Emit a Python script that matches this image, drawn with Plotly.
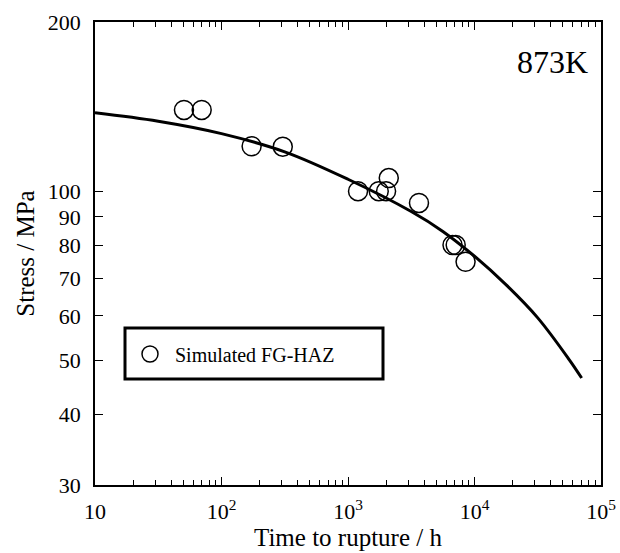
import numpy as np
import plotly.graph_objects as go

# Measured data: time to rupture (h) and stress (MPa)
rupture_time_h = [50.5, 69.7, 173, 305, 1200, 1750, 2000, 2100, 3640, 6700, 7100, 8500]
stress_mpa = [139.5, 139.5, 120.2, 120, 100, 100, 100, 105.5, 95.3, 80.2, 80.2, 74.9]

# Fitted curve
curve_time_h = [10, 31.6, 100, 316, 1000, 3162, 5623, 10000, 17800, 31623, 56200, 70300]
curve_stress_mpa = [137.9, 133.2, 126.6, 117.5, 105.0, 92.0, 84.8, 76.6, 68.1, 59.5, 50.1, 46.5]

x_tick_vals = [10, 100, 1000, 10000, 100000]
x_tick_text = ["10", "10<sup>2</sup>", "10<sup>3</sup>", "10<sup>4</sup>", "10<sup>5</sup>"]
x_minor_vals = [m * d for d in (10, 100, 1000, 10000) for m in range(2, 10)]
y_tick_vals = [30, 40, 50, 60, 70, 80, 90, 100, 200]
y_tick_text = [str(v) for v in y_tick_vals]

FONT = "Liberation Serif"

fig = go.Figure()
fig.add_trace(go.Scatter(
    x=curve_time_h, y=curve_stress_mpa, mode="lines", xaxis="x2",
    line=dict(color="black", width=3, shape="spline", smoothing=1.0),
    showlegend=False, hoverinfo="skip"))
fig.add_trace(go.Scatter(
    x=rupture_time_h, y=stress_mpa, mode="markers",
    name="Simulated FG-HAZ",
    marker=dict(symbol="circle-open", size=19, color="black", line=dict(width=1.5, color="black"))))

tickfont = dict(family=FONT, size=22, color="black")

fig.update_layout(
    xaxis=dict(
        type="log", range=[1, 5], tickmode="array", tickvals=x_tick_vals, ticktext=x_tick_text,
        ticks="inside", ticklen=8, tickwidth=1.3, tickcolor="black", ticklabelstandoff=6,
        showline=True, linecolor="black", linewidth=1.5, mirror="ticks",
        showgrid=False, zeroline=False, tickfont=tickfont,
        title=dict(text="Time to rupture / h", font=dict(family=FONT, size=25, color="black"), standoff=4),
    ),
    xaxis2=dict(
        type="log", range=[1, 5], overlaying="x", side="bottom", anchor="y",
        tickmode="array", tickvals=x_minor_vals, showticklabels=False,
        ticks="inside", ticklen=5, tickwidth=1.1, tickcolor="black",
        showline=False, mirror="ticks", showgrid=False, zeroline=False,
    ),
    yaxis=dict(
        type="log", range=[np.log10(30) - 1e-6, np.log10(200) + 1e-6], tickmode="array",
        tickvals=y_tick_vals, ticktext=y_tick_text,
        ticks="inside", ticklen=8, tickwidth=1.3, tickcolor="black", ticklabelstandoff=8,
        showline=True, linecolor="black", linewidth=1.5, mirror="ticks",
        showgrid=False, zeroline=False, tickfont=tickfont,
        title=dict(text="Stress / MPa", font=dict(family=FONT, size=25, color="black"), standoff=6),
    ),
)

W, H = 620, 553
L, R, T, B = 95, 19, 22, 68
pw, ph = W - L - R, H - T - B

def px(xp):
    return (xp - L) / pw

def py(yp):
    return (H - B - yp) / ph

fig.add_shape(type="rect", xref="paper", yref="paper",
              x0=px(125), x1=px(383), y0=py(379), y1=py(328),
              line=dict(color="black", width=3), fillcolor="rgba(0,0,0,0)")

fig.add_annotation(text="873K", xref="paper", yref="paper", x=px(590), y=py(62),
                   xanchor="right", yanchor="middle", showarrow=False,
                   font=dict(family=FONT, size=32, color="black"))

fig.update_layout(
    width=W, height=H,
    margin=dict(l=L, r=R, t=T, b=B, autoexpand=False),
    paper_bgcolor="white", plot_bgcolor="white",
    legend=dict(x=px(125), y=py(354), xanchor="left", yanchor="middle",
                bgcolor="rgba(0,0,0,0)", borderwidth=0, itemwidth=40,
                font=dict(family=FONT, size=20, color="black")),
    font=dict(family=FONT, color="black"),
)

fig.write_html("out.html")
